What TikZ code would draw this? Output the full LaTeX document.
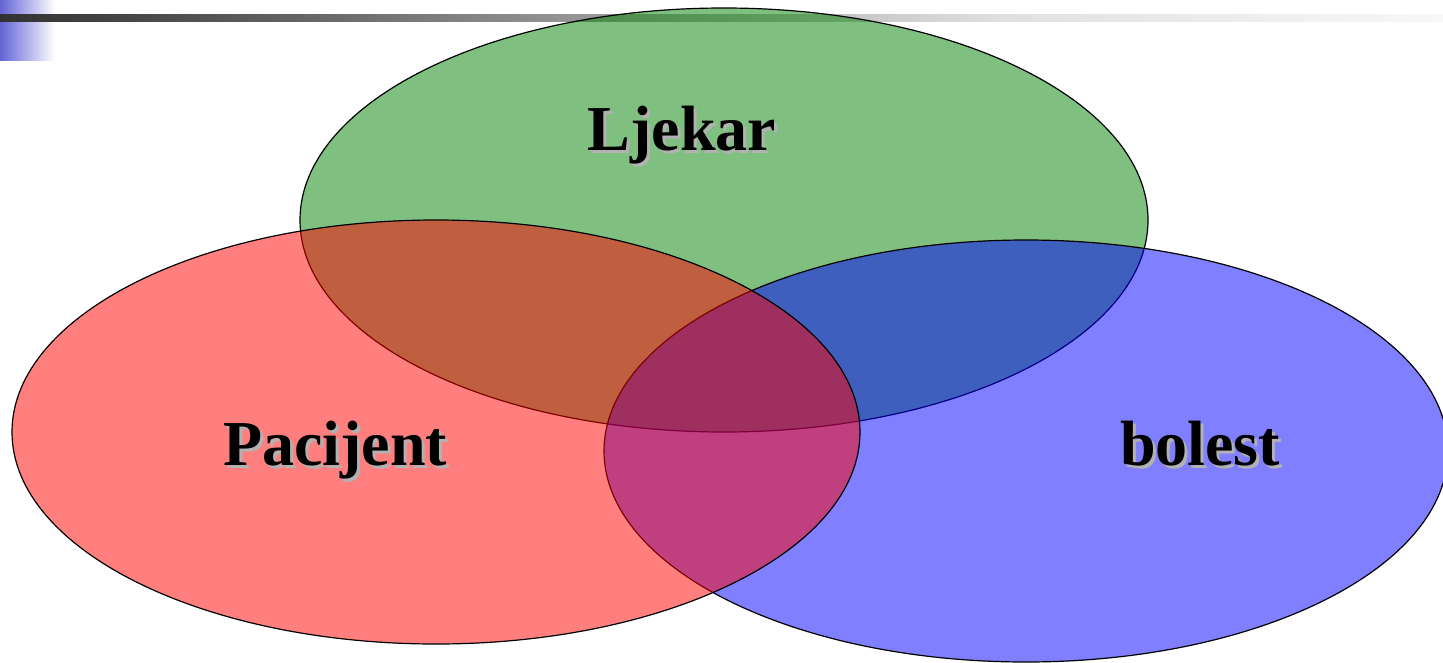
\documentclass[tikz,border=0pt]{standalone}
\usepackage{fontspec}
\setmainfont{Liberation Serif}
\definecolor{setgreen}{RGB}{0,128,0}
\definecolor{barblue}{RGB}{100,100,215}
\pgfdeclarehorizontalshading{topbar}{100bp}{%
  rgb(0bp)=(0.196,0.196,0.196);
  rgb(25bp)=(0.196,0.196,0.196);
  rgb(30.2bp)=(0.29,0.29,0.29);
  rgb(38.86bp)=(0.467,0.467,0.467);
  rgb(59.65bp)=(0.878,0.878,0.878);
  rgb(75bp)=(0.973,0.973,0.973);
  rgb(100bp)=(0.973,0.973,0.973)}
\begin{document}
\begin{tikzpicture}[x=1pt,y=-1pt,
  setfill/.style={fill=#1, fill opacity=0.5, draw=black, draw opacity=1, line width=1.2pt},
  lbl/.style={font=\fontsize{64}{70}\selectfont\bfseries, anchor=base, inner sep=0pt},
  shadowlbl/.style={lbl, text=black!30}]
\useasboundingbox (0,0) rectangle (1443,662);
\begin{scope}
\clip (0,0) rectangle (1443,662);
% decoration
\shade[left color=barblue, right color=white] (0,0) rectangle (55,60);
\shade[shading=topbar] (0,14) rectangle (1443,21);
% sets
\draw[setfill=setgreen] (724,220) ellipse [x radius=424, y radius=212];
\draw[setfill=blue] (1026,451) ellipse [x radius=422, y radius=211];
\draw[setfill=red] (436,432) ellipse [x radius=424, y radius=212];
\end{scope}
% labels
\node[shadowlbl] at (685,153) {Ljekar};
\node[lbl] (ljekar) at (682,150) {Ljekar};
\node[shadowlbl] at (338,468) {Pacijent};
\node[lbl] (pacijent) at (335,465) {Pacijent};
\node[shadowlbl] at (1203,468) {bolest};
\node[lbl] (bolest) at (1200,465) {bolest};
\end{tikzpicture}
\end{document}
